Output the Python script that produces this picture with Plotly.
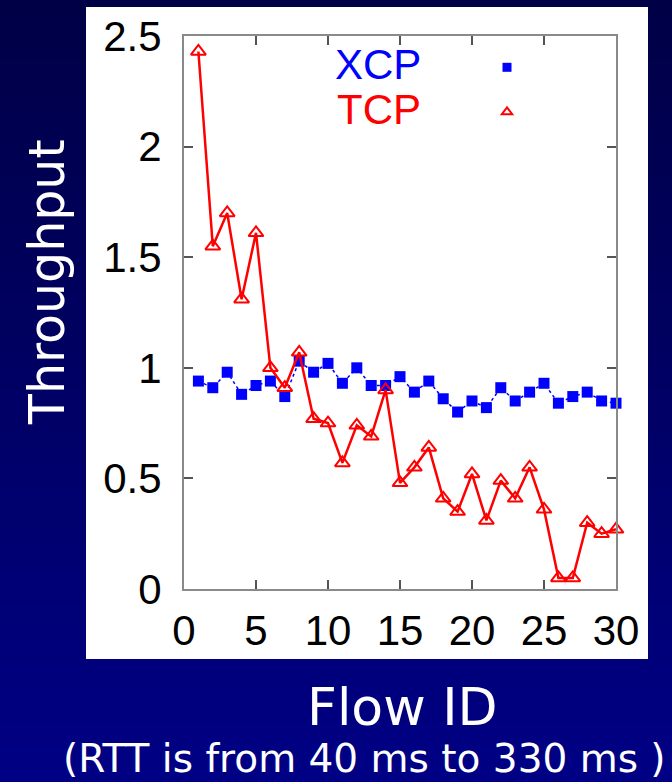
import plotly.graph_objects as go

flow_id = list(range(1, 31))
xcp = [0.94, 0.91, 0.98, 0.88, 0.92, 0.94, 0.87, 1.03, 0.98, 1.02,
       0.93, 1.00, 0.92, 0.92, 0.96, 0.89, 0.94, 0.86, 0.80, 0.85,
       0.82, 0.91, 0.85, 0.89, 0.93, 0.84, 0.87, 0.89, 0.85, 0.84]
tcp = [2.43, 1.55, 1.70, 1.31, 1.61, 1.00, 0.91, 1.07, 0.77, 0.75,
       0.57, 0.74, 0.69, 0.90, 0.48, 0.55, 0.64, 0.41, 0.35, 0.52,
       0.31, 0.49, 0.41, 0.55, 0.36, 0.05, 0.05, 0.30, 0.25, 0.27]
x_ticks = [0, 5, 10, 15, 20, 25, 30]
y_ticks = [0, 0.5, 1, 1.5, 2, 2.5]

W, H = 672, 782
L, R, T, B = 184, 56, 36, 193
pw, ph = W - L - R, H - T - B

def px(xp):
    return (xp - L) / pw

def py(yp):
    return (H - B - yp) / ph

BLUE = "#0000ff"
RED = "#ff0000"

fig = go.Figure()
fig.add_trace(go.Scatter(
    x=flow_id, y=xcp, mode="lines+markers", name="XCP", showlegend=False,
    line=dict(color=BLUE, width=1.5, dash="dot"),
    marker=dict(symbol="square", size=11, color=BLUE),
    cliponaxis=False,
))
fig.add_trace(go.Scatter(
    x=flow_id, y=tcp, mode="lines+markers", name="TCP", showlegend=False,
    line=dict(color=RED, width=2.5),
    marker=dict(symbol="triangle-up-open", size=13, color=RED, line=dict(width=2, color=RED)),
    cliponaxis=False,
))
# legend key samples (marker only)
fig.add_trace(go.Scatter(x=[None], y=[None], mode="markers", name=" ",
                         marker=dict(symbol="square", size=9, color=BLUE)))
fig.add_trace(go.Scatter(x=[None], y=[None], mode="markers", name=" ",
                         marker=dict(symbol="triangle-up-open", size=9, color=RED,
                                     line=dict(width=2, color=RED))))

# navy gradient background outside the white panel
PX0, PX1, PY0, PY1 = 86, 648, 7, 659
shapes = []
n = 40
top_c = (0, 0, 70)
bot_c = (0, 0, 132)

def band(x0, x1, y0, y1, col):
    shapes.append(dict(type="rect", xref="paper", yref="paper", layer="below",
                       x0=px(x0), x1=px(x1), y0=py(y1), y1=py(y0),
                       fillcolor=col, line=dict(width=0)))

for i in range(n):
    f = i / (n - 1)
    col = "rgb(%d,%d,%d)" % tuple(int(round(top_c[k] + (bot_c[k] - top_c[k]) * f)) for k in range(3))
    a = H * i / n - 0.5
    b = H * (i + 1) / n + 0.5
    if a < PY0:
        band(-2, W + 2, a, min(b, PY0), col)
    if b > PY1:
        band(-2, W + 2, max(a, PY1), b, col)
    lo, hi = max(a, PY0), min(b, PY1)
    if hi > lo:
        band(-2, PX0, lo, hi, col)
        band(PX1, W + 2, lo, hi, col)

axis_common = dict(
    showline=True, linecolor="#8a8a8a", linewidth=2, mirror="ticks",
    ticks="inside", ticklen=9, tickwidth=1.5, tickcolor="#555555",
    showgrid=False, zeroline=False, layer="above traces",
    tickfont=dict(family="Liberation Sans", size=42, color="black"),
)

fig.update_layout(
    width=W, height=H,
    margin=dict(l=L, r=R, t=T, b=B),
    paper_bgcolor="white",
    plot_bgcolor="white",
    shapes=shapes,
    xaxis=dict(range=[0, 30], tickvals=x_ticks, ticklabelstandoff=4, **axis_common),
    yaxis=dict(range=[0, 2.5], tickvals=y_ticks, ticklabelstandoff=12, **axis_common),
    legend=dict(x=px(487), y=py(40), xanchor="left", yanchor="top",
                bgcolor="rgba(0,0,0,0)", font=dict(size=32, family="Liberation Sans"),
                itemwidth=30, tracegroupgap=0),
    annotations=[
        dict(text="XCP", xref="paper", yref="paper", x=px(423), y=py(65),
             xanchor="right", yanchor="middle", showarrow=False,
             font=dict(family="Liberation Sans", size=42, color=BLUE)),
        dict(text="TCP", xref="paper", yref="paper", x=px(423), y=py(110),
             xanchor="right", yanchor="middle", showarrow=False,
             font=dict(family="Liberation Sans", size=42, color=RED)),
        dict(text="Throughput", xref="paper", yref="paper", x=px(47), y=py(282),
             xanchor="center", yanchor="middle", textangle=-90, showarrow=False,
             font=dict(family="DejaVu Sans", size=49, color="white")),
        dict(text="Flow ID", xref="paper", yref="paper", x=px(402), y=py(707),
             xanchor="center", yanchor="middle", showarrow=False,
             font=dict(family="DejaVu Sans", size=52, color="white")),
        dict(text="(RTT is from 40 ms to 330 ms )", xref="paper", yref="paper",
             x=px(364), y=py(758), xanchor="center", yanchor="middle", showarrow=False,
             font=dict(family="DejaVu Sans", size=39, color="white")),
    ],
)

fig.write_html("out.html", config={"displayModeBar": False},
               post_script="document.body.style.margin='0';document.body.style.background='rgb(0,0,132)';")
